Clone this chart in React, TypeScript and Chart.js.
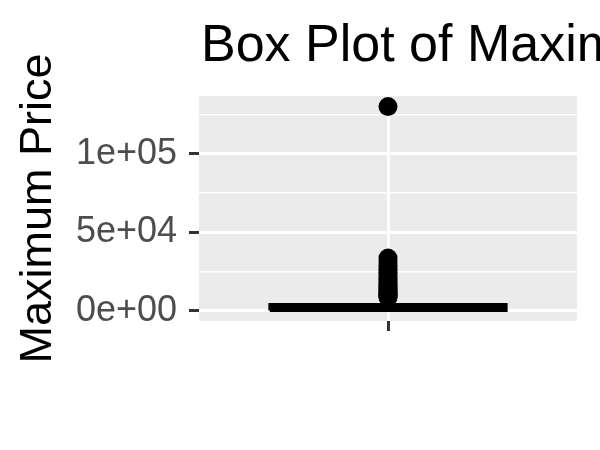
import React, { useEffect, useRef } from 'react';
import { Chart, registerables } from 'chart.js';

Chart.register(...registerables);

const chartTitle = 'Box Plot of Maximum Price';
const yAxisTitle = 'Maximum Price';
const categories = [1];
const q1 = [200];
const median = [1800];
const q3 = [3900];
const whiskerLow = [10];
const whiskerHigh = [8200];
const outliers = [
  8600, 9200, 9900, 10600, 11300, 12100, 13000, 14000, 15000, 16100, 17300, 18600,
  20000, 21500, 23000, 24500, 26200, 28000, 29800, 31600, 33500, 130000,
];
const majorTicks = [0, 50000, 100000];
const majorTickLabels = ['0e+00', '5e+04', '1e+05'];
const minorTicks = [25000, 75000, 125000];
const yMin = -6560;
const yMax = 136750;
const xMin = 0.4;
const xMax = 1.6;
const boxHalfWidth = 0.375;

const FONT = '"Liberation Sans", Arial, Helvetica, sans-serif';

const panelBg = {
  id: 'panelBg',
  beforeDraw(chart: any) {
    const { ctx, chartArea } = chart;
    ctx.save();
    ctx.fillStyle = '#EBEBEB';
    ctx.fillRect(chartArea.left, chartArea.top, chartArea.right - chartArea.left, chartArea.bottom - chartArea.top);
    ctx.restore();
  },
};

const plotTitle = {
  id: 'plotTitle',
  afterDraw(chart: any) {
    const { ctx, chartArea } = chart;
    ctx.save();
    ctx.font = `52px ${FONT}`;
    ctx.fillStyle = '#000000';
    ctx.textAlign = 'left';
    ctx.textBaseline = 'alphabetic';
    ctx.fillText(chartTitle, chartArea.left + 2, 61);
    ctx.restore();
  },
};

export default function App() {
  const ref = useRef<HTMLCanvasElement | null>(null);

  useEffect(() => {
    if (!ref.current) return;
    const datasets: any[] = [];
    categories.forEach((c, i) => {
      datasets.push({
        label: 'median',
        data: [
          { x: c - boxHalfWidth, y: median[i] },
          { x: c + boxHalfWidth, y: median[i] },
        ],
        showLine: true,
        borderColor: '#000000',
        borderWidth: 6,
        pointRadius: 0,
      });
      datasets.push({
        label: 'box',
        data: [
          { x: c - boxHalfWidth, y: q1[i] },
          { x: c + boxHalfWidth, y: q1[i] },
          { x: c + boxHalfWidth, y: q3[i] },
          { x: c - boxHalfWidth, y: q3[i] },
          { x: c - boxHalfWidth, y: q1[i] },
        ],
        showLine: true,
        borderColor: '#000000',
        backgroundColor: '#FFFFFF',
        fill: 'shape',
        borderWidth: 3,
        borderJoinStyle: 'miter',
        pointRadius: 0,
      });
      datasets.push({
        label: 'whiskerHigh',
        data: [
          { x: c, y: q3[i] },
          { x: c, y: whiskerHigh[i] },
        ],
        showLine: true,
        borderColor: '#000000',
        borderWidth: 3,
        pointRadius: 0,
      });
      datasets.push({
        label: 'whiskerLow',
        data: [
          { x: c, y: whiskerLow[i] },
          { x: c, y: q1[i] },
        ],
        showLine: true,
        borderColor: '#000000',
        borderWidth: 3,
        pointRadius: 0,
      });
      datasets.push({
        label: 'outliers',
        data: outliers.map((y) => ({ x: c, y })),
        showLine: false,
        pointRadius: 9.5,
        pointBackgroundColor: '#000000',
        pointBorderWidth: 0,
        backgroundColor: '#000000',
        borderWidth: 0,
      });
    });

    const isMajor = (v: number) => majorTicks.includes(v);

    const chart = new Chart(ref.current, {
      type: 'scatter',
      data: { datasets },
      plugins: [panelBg, plotTitle],
      options: {
        animation: false,
        responsive: false,
        layout: { padding: { top: 96, right: 23, left: 0, bottom: 0 } },
        plugins: {
          legend: { display: false },
          tooltip: { enabled: false },
          title: { display: false },
        },
        scales: {
          x: {
            type: 'linear',
            min: xMin,
            max: xMax,
            afterBuildTicks: (s: any) => {
              s.ticks = categories.map((v) => ({ value: v }));
            },
            afterFit: (s: any) => {
              s.height = 129;
            },
            ticks: { callback: () => '', maxRotation: 0, autoSkip: false },
            grid: {
              color: '#FFFFFF',
              lineWidth: 3,
              tickColor: '#333333',
              tickWidth: 3,
              tickLength: 10,
              drawTicks: true,
            },
            border: { display: false },
          },
          y: {
            type: 'linear',
            min: yMin,
            max: yMax,
            afterBuildTicks: (s: any) => {
              s.ticks = [...majorTicks, ...minorTicks].sort((a, b) => a - b).map((v) => ({ value: v }));
            },
            afterFit: (s: any) => {
              s.width = 199;
            },
            ticks: {
              autoSkip: false,
              padding: 12,
              color: '#4D4D4D',
              font: { size: 36, family: FONT },
              callback: (v: any) => {
                const idx = majorTicks.indexOf(Number(v));
                return idx >= 0 ? majorTickLabels[idx] : '';
              },
            },
            grid: {
              color: '#FFFFFF',
              lineWidth: (ctx: any) => (isMajor(ctx.tick?.value) ? 3 : 1.4),
              tickColor: (ctx: any) => (isMajor(ctx.tick?.value) ? '#333333' : 'rgba(0,0,0,0)'),
              tickWidth: 3,
              tickLength: 10,
              drawTicks: true,
            },
            border: { display: false },
            title: {
              display: true,
              text: yAxisTitle,
              color: '#000000',
              font: { size: 45, family: FONT },
              padding: { top: 12, bottom: 0 },
            },
          },
        },
      } as any,
    });
    return () => chart.destroy();
  }, []);

  return (
    <div style={{ position: 'absolute', left: 0, top: 0, width: 600, height: 450, background: '#FFFFFF' }}>
      <canvas ref={ref} width={600} height={450} />
    </div>
  );
}
